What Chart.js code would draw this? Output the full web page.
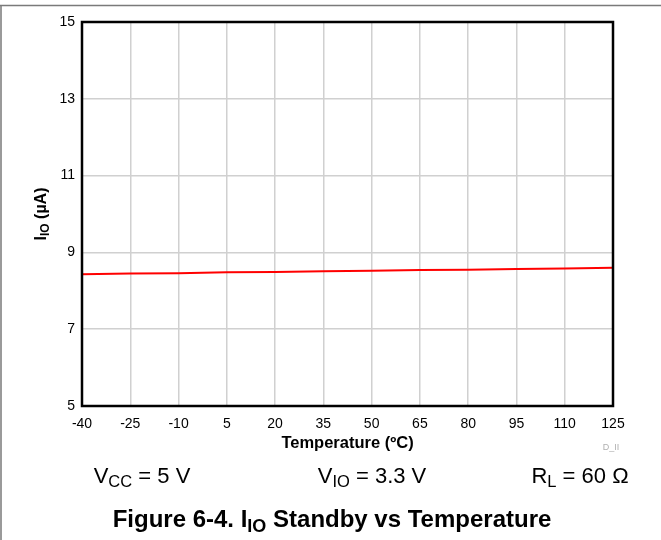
<!DOCTYPE html>
<html>
<head>
<meta charset="utf-8">
<script src="https://cdn.jsdelivr.net/npm/chart.js@4"></script>
<style>
  html, body { margin: 0; padding: 0; background: #fff; }
  #wrap { width: 661px; height: 540px; }
</style>
</head>
<body>
<div id="wrap"><canvas id="myChart" width="661" height="540"></canvas></div>
<script>
var temps = [-40, -25, -10, 5, 20, 35, 50, 65, 80, 95, 110, 125];
var iio = [8.43, 8.45, 8.46, 8.48, 8.49, 8.51, 8.52, 8.54, 8.55, 8.57, 8.58, 8.60];
var xTicks = [-40, -25, -10, 5, 20, 35, 50, 65, 80, 95, 110, 125];
var yTicks = [5, 7, 9, 11, 13, 15];

var FONT = '"Liberation Sans", Arial, sans-serif';

// draws text made of normal and subscript pieces, centred on x, y is the baseline
function richText(ctx, parts, x, y, size, bold, subScale) {
    var k = subScale || 0.75;
    var w = 0;
    parts.forEach(function (p) {
        ctx.font = (bold ? 'bold ' : '') + (p.sub ? size * k : size) + 'px ' + FONT;
        p.w = ctx.measureText(p.t).width;
        w += p.w;
    });
    var cx = x - w / 2;
    parts.forEach(function (p) {
        ctx.font = (bold ? 'bold ' : '') + (p.sub ? size * k : size) + 'px ' + FONT;
        ctx.fillText(p.t, cx, p.sub ? y + size * 0.2 : y);
        cx += p.w;
    });
}

var extras = {
    id: 'extras',
    afterDraw: function (chart) {
        var ctx = chart.ctx;
        var a = chart.chartArea;
        ctx.save();
        // page frame
        ctx.strokeStyle = '#7a7a7a';
        ctx.lineWidth = 1.5;
        ctx.beginPath();
        ctx.moveTo(0, 5.5); ctx.lineTo(661, 5.5);
        ctx.moveTo(1, 5); ctx.lineTo(1, 540);
        ctx.stroke();
        // plot border
        ctx.strokeStyle = '#000';
        ctx.lineWidth = 2.5;
        ctx.strokeRect(a.left, a.top, a.right - a.left, a.bottom - a.top);

        ctx.fillStyle = '#000';
        ctx.textBaseline = 'alphabetic';
        // y title
        ctx.save();
        ctx.translate(46, (a.top + a.bottom) / 2);
        ctx.rotate(-Math.PI / 2);
        richText(ctx, [{t: 'I'}, {t: 'IO', sub: true}, {t: ' (\u00b5A)'}], 0, 0, 16, true);
        ctx.restore();

        // x title
        richText(ctx, [{t: 'Temperature (\u00baC)'}], (a.left + a.right) / 2, 448, 16.5, true);

        // conditions
        richText(ctx, [{t: 'V'}, {t: 'CC', sub: true}, {t: ' = 5 V'}], 142, 483, 22, false);
        richText(ctx, [{t: 'V'}, {t: 'IO', sub: true}, {t: ' = 3.3 V'}], 372, 483, 22, false);
        richText(ctx, [{t: 'R'}, {t: 'L', sub: true}, {t: ' = 60 \u03a9'}], 580, 483, 22, false);

        // figure caption
        richText(ctx, [{t: 'Figure 6-4. I'}, {t: 'IO', sub: true}, {t: ' Standby vs Temperature'}], 332, 527, 24, true);

        // small id
        ctx.fillStyle = '#b0b0b0';
        ctx.font = '9px ' + FONT;
        ctx.textAlign = 'center';
        ctx.fillText('D_II', 611, 450);
        ctx.restore();
    }
};

var ctx = document.getElementById('myChart').getContext('2d');
var myChart = new Chart(ctx, {
    type: 'line',
    data: {
        datasets: [{
            label: 'IIO',
            data: temps.map(function (t, i) { return {x: t, y: iio[i]}; }),
            borderColor: '#ff0000',
            borderWidth: 2,
            pointRadius: 0,
            tension: 0
        }]
    },
    options: {
        responsive: false,
        animation: false,
        layout: { padding: { top: 22, right: 48, left: 0, bottom: 0 } },
        plugins: {
            legend: { display: false },
            tooltip: { enabled: false }
        },
        scales: {
            x: {
                type: 'linear',
                min: -40,
                max: 125,
                afterBuildTicks: function (s) { s.ticks = xTicks.map(function (v) { return {value: v}; }); },
                afterFit: function (s) { s.height = 134; },
                grid: { color: '#d0d0d0', lineWidth: 1.5, drawTicks: false },
                border: { display: false },
                ticks: {
                    color: '#000',
                    padding: 10,
                    maxRotation: 0,
                    autoSkip: false,
                    font: { family: FONT, size: 14 }
                }
            },
            y: {
                min: 5,
                max: 15,
                afterBuildTicks: function (s) { s.ticks = yTicks.map(function (v) { return {value: v}; }); },
                afterFit: function (s) { s.width = 82; },
                grid: { color: '#d0d0d0', lineWidth: 1.5, drawTicks: false },
                border: { display: false },
                ticks: {
                    color: '#000',
                    padding: 7,
                    autoSkip: false,
                    font: { family: FONT, size: 14 }
                }
            }
        }
    },
    plugins: [extras]
});
</script>
</body>
</html>
